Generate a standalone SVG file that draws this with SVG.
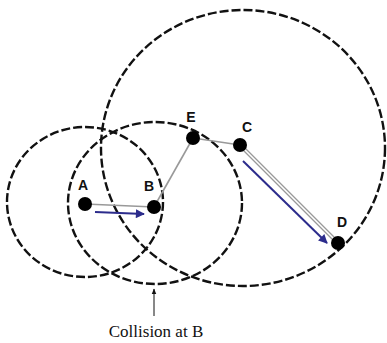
<svg xmlns="http://www.w3.org/2000/svg" width="387" height="343" viewBox="0 0 387 343">
<defs>
<style>
.range{fill:none;stroke:#111;stroke-width:2.4;stroke-dasharray:9 3}
.link{fill:none;stroke:#999;stroke-width:1.6}
.move{fill:none;stroke:#2c2c8c;stroke-width:2}
.dot{fill:#000}
.lbl{font-family:"Liberation Sans",Arial,sans-serif;font-weight:bold;font-size:14px;fill:#111;text-anchor:middle}
.cap{font-family:"Liberation Serif","Times New Roman",serif;font-size:17px;fill:#111;text-anchor:middle}
</style>
<marker id="ah" viewBox="0 0 10 10" refX="9" refY="5" markerWidth="5" markerHeight="4.5" orient="auto" markerUnits="strokeWidth">
<path d="M0,0 L10,5 L0,10 z" fill="#2c2c8c"/>
</marker>
<marker id="up" viewBox="0 0 10 10" refX="9" refY="5" markerWidth="6" markerHeight="6" orient="auto" markerUnits="userSpaceOnUse">
<path d="M0,1 L10,5 L0,9 z" fill="#111"/>
</marker>
</defs>
<rect width="387" height="343" fill="#fff"/>
<g id="ranges">
<ellipse class="range" cx="85" cy="202" rx="78" ry="75"/>
<ellipse class="range" cx="155" cy="203" rx="87" ry="81"/>
<ellipse class="range" cx="243" cy="148" rx="142" ry="138"/>
</g>
<g id="connectors">
<line class="link" x1="85" y1="204" x2="154" y2="207"/>
<line class="link" x1="154" y1="207" x2="193" y2="138"/>
<line class="link" x1="193" y1="138" x2="240" y2="145"/>
<line x1="240" y1="145" x2="338" y2="243" stroke="#999" stroke-width="4"/>
<line x1="240" y1="145" x2="338" y2="243" stroke="#fff" stroke-width="1.6"/>
<line class="move" x1="95" y1="212" x2="144" y2="214" marker-end="url(#ah)"/>
<line class="move" x1="243" y1="161" x2="327" y2="243" marker-end="url(#ah)"/>
<line x1="154" y1="316" x2="154" y2="289" stroke="#111" stroke-width="1" marker-end="url(#up)"/>
</g>
<g id="A"><circle class="dot" cx="85" cy="204" r="7"/><text class="lbl" x="83" y="190">A</text></g>
<g id="B"><circle class="dot" cx="154" cy="207" r="7"/><text class="lbl" x="149" y="191">B</text></g>
<g id="E"><circle class="dot" cx="193" cy="138" r="7"/><text class="lbl" x="191" y="122">E</text></g>
<g id="C"><circle class="dot" cx="240" cy="145" r="7"/><text class="lbl" x="247" y="132">C</text></g>
<g id="D"><circle class="dot" cx="338" cy="243" r="7"/><text class="lbl" x="342" y="227">D</text></g>
<text class="cap" x="156" y="337">Collision at B</text>
</svg>
